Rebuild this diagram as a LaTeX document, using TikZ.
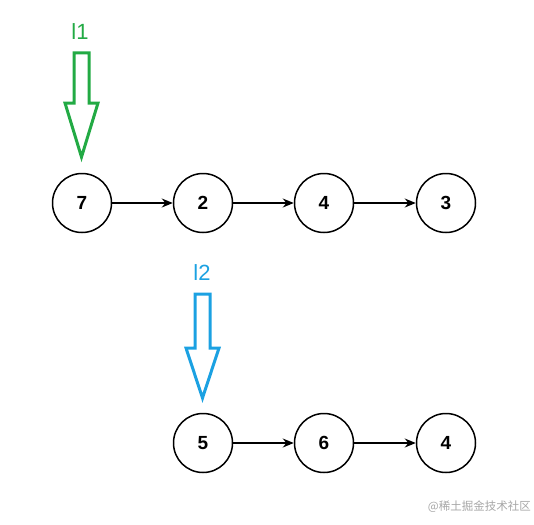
\documentclass[tikz,border=0pt]{standalone}
\usepackage{fontspec}
\setmainfont{Liberation Sans}
\newfontfamily\cjk{Noto Sans CJK SC}
\usetikzlibrary{arrows.meta}
\definecolor{lgreen}{RGB}{34,170,68}
\definecolor{lblue}{RGB}{27,161,226}
\begin{document}
\begin{tikzpicture}[x=1pt,y=-1pt,
  lnode/.style={draw,circle,line width=1.5pt,minimum size=59pt,inner sep=0pt,font=\fontsize{19}{22}\selectfont\bfseries},
  link/.style={line width=1.2pt,-{Stealth[length=11pt,width=9pt]}},
  blockarrow/.style={line width=3pt,line join=miter},
  lbl/.style={font=\fontsize{22}{24}\selectfont}]
\useasboundingbox (0,0) rectangle (534,524);
\node[lnode] (a1) at (82,203) {7};
\node[lnode] (a2) at (203,203) {2};
\node[lnode] (a3) at (324,203) {4};
\node[lnode] (a4) at (446,203) {3};
\node[lnode] (b1) at (203,443) {5};
\node[lnode] (b2) at (324,443) {6};
\node[lnode] (b3) at (446,443) {4};
\draw[link] (a1) -- (a2);
\draw[link] (a2) -- (a3);
\draw[link] (a3) -- (a4);
\draw[link] (b1) -- (b2);
\draw[link] (b2) -- (b3);
\draw[blockarrow,lgreen] (74,53) -- (89,53) -- (89,103) -- (98,103) -- (81.5,157) -- (65,103) -- (74,103) -- cycle;
\node[lbl,text=lgreen] (l1) at (80,32) {l1};
\draw[blockarrow,lblue] (195,294) -- (210,294) -- (210,348) -- (219,348) -- (202.5,398) -- (186,348) -- (195,348) -- cycle;
\node[lbl,text=lblue] (l2) at (202,273) {l2};
\node[text=gray!70,font=\cjk\fontsize{11.5}{13}\selectfont,anchor=east,inner sep=0pt] (wm) at (531,507) {@稀土掘金技术社区};
\end{tikzpicture}
\end{document}
